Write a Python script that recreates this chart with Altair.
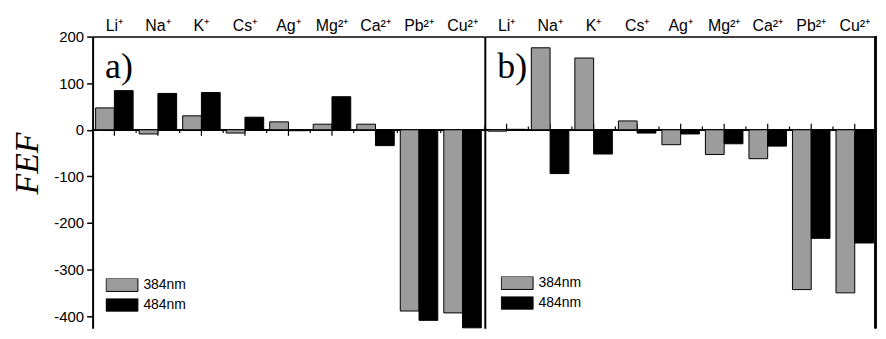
import altair as alt
import pandas as pd

ions = ["Li⁺", "Na⁺", "K⁺", "Cs⁺", "Ag⁺", "Mg²⁺", "Ca²⁺", "Pb²⁺", "Cu²⁺"]
series = ["384nm", "484nm"]
a_384 = [47, -9, 30, -7, 17, 12, 12, -389, -393]
a_484 = [84, 78, 80, 27, -2, 71, -34, -409, -425]
b_384 = [-3, 176, 154, 19, -32, -53, -62, -343, -350]
b_484 = [1, -94, -52, -7, -9, -30, -35, -233, -243]
y_ticks = list(range(-400, 201, 50))
y_domain = [-426, 200]

W, H = 393.5, 293
SANS = "Liberation Sans"
SERIF = "Liberation Serif"
HATCH = "#9c9c9c"


def panel(v384, v484, tag, first, legend_xy, tick_dir):
    df = pd.DataFrame({
        "ion": ions * 2,
        "series": [series[0]] * len(ions) + [series[1]] * len(ions),
        "value": v384 + v484,
    })
    ion_df = pd.DataFrame({"ion": ions})

    x_axis = alt.Axis(orient="top", labelAngle=0, ticks=False, domain=True,
                      domainColor="black", domainWidth=1.5, labelFont=SANS,
                      labelFontSize=16, labelColor="black", labelPadding=3,
                      grid=False, title=None, labelOverlap=False)
    if first:
        y_axis = alt.Axis(values=y_ticks,
                          labelExpr="datum.value % 100 === 0 ? '' + datum.value : ''",
                          tickSize={"condition": {"test": "datum.value % 100 === 0", "value": 6}, "value": 3},
                          tickColor="black", tickWidth=1.5, domainColor="black",
                          domainWidth=2, labelFont=SANS, labelFontSize=15,
                          labelColor="black", labelPadding=3, grid=False,
                          title="FEF", titleFont=SERIF, titleFontStyle="italic",
                          titleFontSize=34, titleFontWeight="normal",
                          titleColor="black", titleX=-55, titleY=127,
                          titleBaseline="alphabetic")
    else:
        y_axis = alt.Axis(values=y_ticks, labels=False, ticks=False,
                          domainColor="black", domainWidth=2, grid=False, title=None)

    def X(bp):
        return alt.X("ion:N", sort=ions, bandPosition=bp,
                     scale=alt.Scale(paddingInner=0, paddingOuter=0), axis=x_axis)

    yscale = alt.Scale(domain=y_domain, nice=False)

    bars = alt.Chart(df).mark_bar(stroke="black", strokeWidth=1).encode(
        x=X(0.5),
        xOffset=alt.XOffset("series:N", sort=series,
                            scale=alt.Scale(paddingOuter=0.16, paddingInner=0)),
        y=alt.Y("value:Q", scale=yscale, axis=y_axis),
        fill=alt.Fill("series:N", sort=series,
                      scale=alt.Scale(domain=series, range=[HATCH, "black"]),
                      legend=alt.Legend(orient="none", legendX=legend_xy[0],
                                        legendY=legend_xy[1], title=None,
                                        symbolType="M-1,-0.406L1,-0.406L1,0.406L-1,0.406Z",
                                        symbolSize=1024, clipHeight=13,
                                        symbolStrokeColor="black", symbolStrokeWidth=1,
                                        labelFont=SANS, labelFontSize=14,
                                        labelColor="black", labelOffset=5,
                                        rowPadding=5, padding=0)),
    )

    zero = alt.Chart(ion_df).mark_rule(color="black", strokeWidth=1.5).encode(
        y=alt.datum(0))
    major = alt.Chart(ion_df).mark_rule(color="black", strokeWidth=1.2).encode(
        x=X(0.5), y=alt.datum(0), y2=alt.datum(13 * tick_dir))
    minor = alt.Chart(ion_df).mark_rule(color="black", strokeWidth=1.2).encode(
        x=X(0), y=alt.datum(0), y2=alt.datum(7 * tick_dir))
    label = alt.Chart(pd.DataFrame({"t": [tag]})).mark_text(
        font=SERIF, fontSize=36, align="left", baseline="alphabetic", color="black"
    ).encode(x=alt.value(12.5), y=alt.value(42), text="t:N")

    layers = [zero, major, minor, bars, label]
    if not first:
        border = alt.Chart(ion_df).mark_rule(color="black", strokeWidth=1.5).encode(
            x=alt.value(W - 1))
        layers.append(border)
    return alt.layer(*layers).properties(width=W, height=H)


left = panel(a_384, a_484, "a)", True, (13, 243), -1)
right = panel(b_384, b_484, "b)", False, (16, 241), 1)

chart = alt.hconcat(left, right, spacing=0, bounds="flush").resolve_scale(
    x="independent", y="independent", fill="independent"
).resolve_legend(fill="independent").configure_view(stroke=None).properties(
    background="white",
    padding={"left": 3, "top": 9, "right": 0, "bottom": 0})

chart.save("out.html", embed_options={"renderer": "svg", "actions": False})
